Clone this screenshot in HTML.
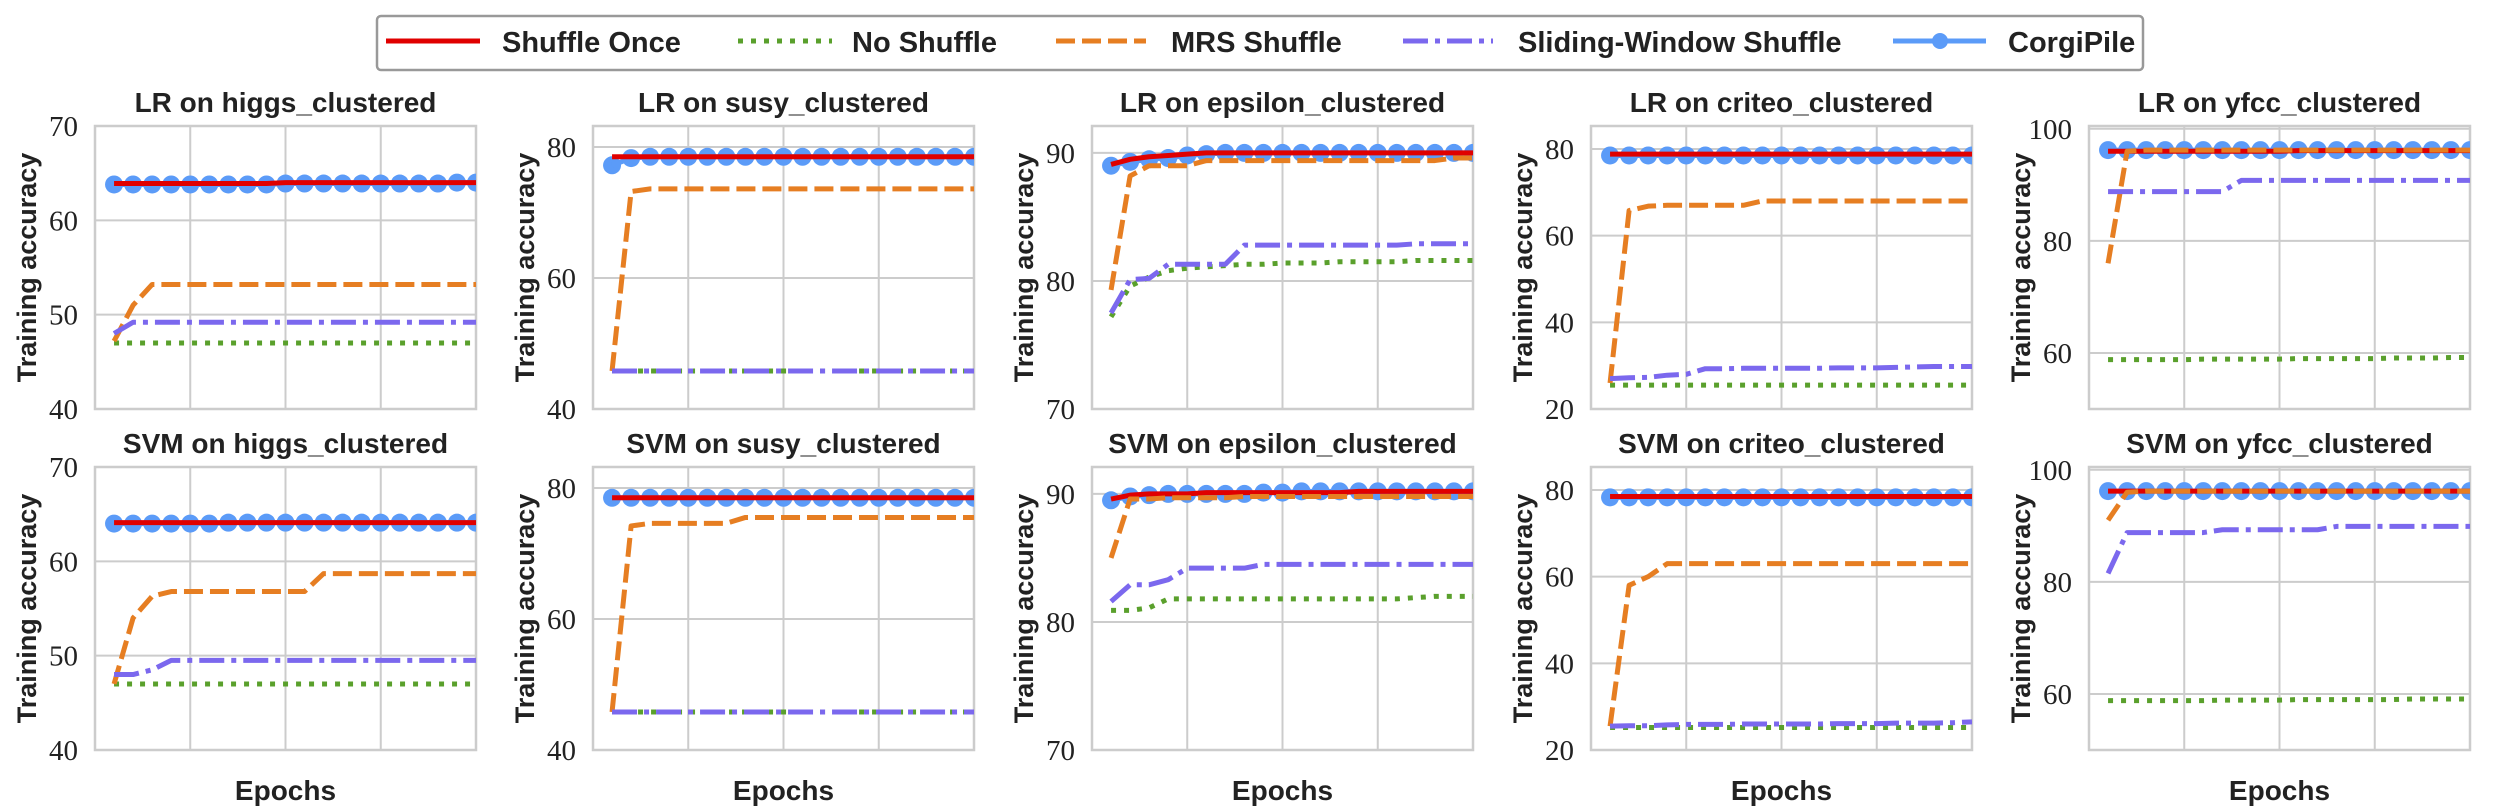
<!DOCTYPE html>
<html><head><meta charset="utf-8"><style>
html,body{margin:0;padding:0;background:#fff;}
svg{display:block;}
</style></head><body>
<svg id="chart" width="2520" height="810" xmlns="http://www.w3.org/2000/svg">
<g>
<rect x="377" y="16" width="1766" height="54" rx="4" fill="#fff" stroke="#999" stroke-width="2.5"/>
<g><line x1="386" y1="41" x2="480" y2="41" stroke="#e00000" stroke-width="5"/><text x="502" y="52" font-family="Liberation Sans, sans-serif" font-weight="bold" font-size="29" fill="#222">Shuffle Once</text></g>
<g><line x1="738" y1="41" x2="832" y2="41" stroke="#5aa02c" stroke-width="5" stroke-dasharray="5,8"/><text x="852" y="52" font-family="Liberation Sans, sans-serif" font-weight="bold" font-size="29" fill="#222">No Shuffle</text></g>
<g><line x1="1056" y1="41" x2="1146" y2="41" stroke="#e67e22" stroke-width="5" stroke-dasharray="19,7"/><text x="1171" y="52" font-family="Liberation Sans, sans-serif" font-weight="bold" font-size="29" fill="#222">MRS Shuffle</text></g>
<g><line x1="1403" y1="41" x2="1493" y2="41" stroke="#7b68ee" stroke-width="5" stroke-dasharray="25,7,5,7"/><text x="1518" y="52" font-family="Liberation Sans, sans-serif" font-weight="bold" font-size="29" fill="#222">Sliding-Window Shuffle</text></g>
<g><line x1="1893" y1="41" x2="1986" y2="41" stroke="#5b9bf8" stroke-width="5"/><circle cx="1940" cy="41" r="8" fill="#5b9bf8"/><text x="2008" y="52" font-family="Liberation Sans, sans-serif" font-weight="bold" font-size="29" fill="#222">CorgiPile</text></g>
</g>
</svg>
<script>
const epochs=[1,2,3,4,5,6,7,8,9,10,11,12,13,14,15,16,17,18,19,20];
const titles=["LR on higgs_clustered","LR on susy_clustered","LR on epsilon_clustered","LR on criteo_clustered","LR on yfcc_clustered","SVM on higgs_clustered","SVM on susy_clustered","SVM on epsilon_clustered","SVM on criteo_clustered","SVM on yfcc_clustered"];
const yMin=[40,40,70,20,50,40,40,70,20,50];
const yMax=[70,83.2,92.1,85.3,100.5,70,83.2,92.1,85.3,100.5];
const yTicks=[[40,50,60,70],[40,60,80],[70,80,90],[20,40,60,80],[60,80,100],[40,50,60,70],[40,60,80],[70,80,90],[20,40,60,80],[60,80,100]];
const shuffleOnce=[
[63.9,63.9,63.9,63.9,63.9,63.9,63.9,63.9,63.9,64,64,64,64,64,64,64,64,64,64,64],
[78.5,78.5,78.5,78.5,78.5,78.5,78.5,78.5,78.5,78.5,78.5,78.5,78.5,78.5,78.5,78.5,78.5,78.5,78.5,78.5],
[89.1,89.5,89.7,89.8,89.9,90,90,90,90,90,90,90,90,90,90,90,90,90,90,90],
[78.8,78.8,78.8,78.8,78.8,78.8,78.8,78.8,78.8,78.8,78.8,78.8,78.8,78.8,78.8,78.8,78.8,78.8,78.8,78.8],
[96,96,96,96,96,96,96,96,96,96,96.1,96.1,96.1,96.1,96.1,96.1,96.1,96.1,96.1,96.1],
[64.1,64.1,64.1,64.1,64.1,64.1,64.1,64.1,64.1,64.1,64.1,64.1,64.1,64.1,64.1,64.1,64.1,64.1,64.1,64.1],
[78.5,78.5,78.5,78.5,78.5,78.5,78.5,78.5,78.5,78.5,78.5,78.5,78.5,78.5,78.5,78.5,78.5,78.5,78.5,78.5],
[89.6,89.9,90,90,90,90.1,90.1,90.1,90.1,90.1,90.1,90.1,90.1,90.2,90.2,90.2,90.2,90.2,90.2,90.2],
[78.5,78.5,78.5,78.5,78.5,78.5,78.5,78.5,78.5,78.5,78.5,78.5,78.5,78.5,78.5,78.5,78.5,78.5,78.5,78.5],
[96.2,96.2,96.2,96.2,96.2,96.2,96.2,96.2,96.2,96.2,96.2,96.2,96.2,96.2,96.2,96.2,96.2,96.2,96.2,96.2]];
const noShuffle=[
[47,47,47,47,47,47,47,47,47,47,47,47,47,47,47,47,47,47,47,47],
[45.8,45.8,45.8,45.8,45.8,45.8,45.8,45.8,45.8,45.8,45.8,45.8,45.8,45.8,45.8,45.8,45.8,45.8,45.8,45.8],
[77.2,79.6,80.3,80.8,81,81.1,81.2,81.3,81.3,81.4,81.4,81.4,81.5,81.5,81.5,81.5,81.6,81.6,81.6,81.6],
[25.5,25.5,25.5,25.5,25.5,25.5,25.5,25.5,25.5,25.5,25.5,25.5,25.5,25.5,25.5,25.5,25.5,25.5,25.5,25.5],
[58.8,58.8,58.8,58.8,58.8,58.9,58.9,58.9,58.9,58.9,59,59,59,59,59,59.1,59.1,59.1,59.2,59.2],
[47,47,47,47,47,47,47,47,47,47,47,47,47,47,47,47,47,47,47,47],
[45.8,45.8,45.8,45.8,45.8,45.8,45.8,45.8,45.8,45.8,45.8,45.8,45.8,45.8,45.8,45.8,45.8,45.8,45.8,45.8],
[80.9,80.9,81.1,81.8,81.8,81.8,81.8,81.8,81.8,81.8,81.8,81.8,81.8,81.8,81.8,81.8,81.9,82,82,82],
[25.2,25.2,25.2,25.2,25.2,25.2,25.2,25.2,25.2,25.2,25.2,25.2,25.2,25.2,25.2,25.2,25.2,25.2,25.2,25.2],
[58.8,58.8,58.8,58.8,58.8,58.8,58.9,58.9,58.9,58.9,59,59,59,59,59,59,59.1,59.1,59.1,59.1]];
const mrsShuffle=[
[47.2,51,53.2,53.2,53.2,53.2,53.2,53.2,53.2,53.2,53.2,53.2,53.2,53.2,53.2,53.2,53.2,53.2,53.2,53.2],
[45.8,73.2,73.6,73.6,73.6,73.6,73.6,73.6,73.6,73.6,73.6,73.6,73.6,73.6,73.6,73.6,73.6,73.6,73.6,73.6],
[79.3,88.2,89,89,89,89.4,89.4,89.4,89.4,89.4,89.4,89.4,89.4,89.4,89.4,89.4,89.4,89.4,89.6,89.6],
[26,65.8,66.8,67,67,67,67,67,68,68,68,68,68,68,68,68,68,68,68,68],
[76,96,96.2,96.2,96.2,96.2,96.2,96.2,96.2,96.2,96.2,96.2,96.2,96.2,96.2,96.2,96.2,96.2,96.2,96.2],
[47,54,56.3,56.8,56.8,56.8,56.8,56.8,56.8,56.8,56.8,58.7,58.7,58.7,58.7,58.7,58.7,58.7,58.7,58.7],
[45.8,74.2,74.6,74.6,74.6,74.6,74.6,75.5,75.5,75.5,75.5,75.5,75.5,75.5,75.5,75.5,75.5,75.5,75.5,75.5],
[85,89.6,89.6,89.7,89.7,89.7,89.7,89.8,89.8,89.8,89.8,89.8,89.8,89.8,89.8,89.8,89.8,89.8,89.8,89.8],
[25.5,58,60,63,63,63,63,63,63,63,63,63,63,63,63,63,63,63,63,63],
[91,96,96.2,96.2,96.2,96.2,96.2,96.2,96.2,96.2,96.2,96.2,96.2,96.2,96.2,96.2,96.2,96.2,96.2,96.2]];
const slidingWindow=[
[48,49.2,49.2,49.2,49.2,49.2,49.2,49.2,49.2,49.2,49.2,49.2,49.2,49.2,49.2,49.2,49.2,49.2,49.2,49.2],
[45.8,45.8,45.8,45.8,45.8,45.8,45.8,45.8,45.8,45.8,45.8,45.8,45.8,45.8,45.8,45.8,45.8,45.8,45.8,45.8],
[77.5,80.1,80.2,81.3,81.3,81.3,81.3,82.8,82.8,82.8,82.8,82.8,82.8,82.8,82.8,82.8,82.9,82.9,82.9,82.9],
[27,27.2,27.3,27.8,28,29.3,29.3,29.4,29.4,29.4,29.4,29.4,29.5,29.5,29.5,29.6,29.7,29.8,29.8,29.8],
[88.8,88.8,88.8,88.8,88.8,88.8,88.8,90.8,90.8,90.8,90.8,90.8,90.8,90.8,90.8,90.8,90.8,90.8,90.8,90.8],
[48,48,48.5,49.5,49.5,49.5,49.5,49.5,49.5,49.5,49.5,49.5,49.5,49.5,49.5,49.5,49.5,49.5,49.5,49.5],
[45.8,45.8,45.8,45.8,45.8,45.8,45.8,45.8,45.8,45.8,45.8,45.8,45.8,45.8,45.8,45.8,45.8,45.8,45.8,45.8],
[81.6,82.9,82.9,83.3,84.2,84.2,84.2,84.2,84.5,84.5,84.5,84.5,84.5,84.5,84.5,84.5,84.5,84.5,84.5,84.5],
[25.5,25.6,25.6,25.8,25.9,25.9,25.9,26,26,26,26,26,26.1,26.1,26.1,26.2,26.2,26.2,26.3,26.5],
[81.5,88.8,88.8,88.8,88.8,88.8,89.3,89.3,89.3,89.3,89.3,89.3,89.9,89.9,89.9,89.9,89.9,89.9,89.9,89.9]];
const corgiPile=[
[63.8,63.8,63.8,63.8,63.8,63.8,63.8,63.8,63.8,63.9,63.9,63.9,63.9,63.9,63.9,63.9,63.9,63.9,64,64],
[77.2,78.3,78.5,78.5,78.5,78.5,78.5,78.5,78.5,78.5,78.5,78.5,78.5,78.5,78.5,78.5,78.5,78.5,78.5,78.5],
[89,89.3,89.5,89.6,89.8,89.9,90,90,90,90,90,90,90,90,90,90,90,90,90,90],
[78.5,78.5,78.5,78.5,78.5,78.5,78.5,78.5,78.5,78.5,78.5,78.5,78.5,78.5,78.5,78.5,78.5,78.5,78.5,78.5],
[96.2,96.2,96.2,96.2,96.2,96.2,96.2,96.2,96.2,96.2,96.2,96.2,96.2,96.2,96.2,96.2,96.2,96.2,96.2,96.2],
[64,64,64,64,64,64,64.1,64.1,64.1,64.1,64.1,64.1,64.1,64.1,64.1,64.1,64.1,64.1,64.1,64.1],
[78.5,78.5,78.5,78.5,78.5,78.5,78.5,78.5,78.5,78.5,78.5,78.5,78.5,78.5,78.5,78.5,78.5,78.5,78.5,78.5],
[89.5,89.8,89.9,90,90,90,90,90,90.1,90.1,90.2,90.2,90.2,90.2,90.2,90.2,90.2,90.2,90.2,90.2],
[78.3,78.3,78.3,78.3,78.3,78.3,78.3,78.3,78.3,78.3,78.3,78.3,78.3,78.3,78.3,78.3,78.3,78.3,78.3,78.3],
[96.2,96.2,96.2,96.2,96.2,96.2,96.2,96.2,96.2,96.2,96.2,96.2,96.2,96.2,96.2,96.2,96.2,96.2,96.2,96.2]];

const NS="http://www.w3.org/2000/svg";
const svg=document.getElementById('chart');
const lefts=[95,593,1092,1591,2089], W=381, tops=[126,467], H=283;
function mk(tag,attrs,parent){const e=document.createElementNS(NS,tag);for(const k in attrs)e.setAttribute(k,attrs[k]);parent.appendChild(e);return e;}
const series=[
 {name:'corgipile',data:corgiPile,color:'#5b9bf8',dash:null,marker:true},
 {name:'shuffle-once',data:shuffleOnce,color:'#e00000',dash:null},
 {name:'no-shuffle',data:noShuffle,color:'#5aa02c',dash:'5,8'},
 {name:'mrs-shuffle',data:mrsShuffle,color:'#e67e22',dash:'19,7'},
 {name:'sliding-window',data:slidingWindow,color:'#7b68ee',dash:'25,7,5,7'}];
for(let p=0;p<10;p++){
 const L=lefts[p%5], T=tops[Math.floor(p/5)];
 const g=mk('g',{},svg);
 
 
 const xs=e=>L+(e/20)*W;
 const ys=v=>T+H-(v-yMin[p])/(yMax[p]-yMin[p])*H;
 const defs=mk('defs',{},g);
 const cp=mk('clipPath',{id:'c'+p},defs);
 mk('rect',{x:L,y:T,width:W,height:H},cp);
 for(const e of [5,10,15]){const gl=mk('line',{x1:xs(e),x2:xs(e),y1:T,y2:T+H,stroke:'#cccccc','stroke-width':2},g);
  }
 for(const t of yTicks[p]){const y=ys(t);
  if(t>yMin[p]&&t<yMax[p]){const gl=mk('line',{x1:L,x2:L+W,y1:y,y2:y,stroke:'#cccccc','stroke-width':2},g);
   }
  const tx=mk('text',{x:L-17,y:y+10,'text-anchor':'end','font-family':'Liberation Serif, serif','font-size':29,fill:'#222'},g);
  tx.textContent=t;
  }
 const fr=mk('rect',{x:L,y:T,width:W,height:H,fill:'none',stroke:'#cccccc','stroke-width':2.5},g);
 
 const plot=mk('g',{'clip-path':'url(#c'+p+')'},g);
 for(const s of series){
  const pts=s.data[p].map((v,i)=>xs(epochs[i])+','+ys(v)).join(' ');
  if(s.marker){for(let i=0;i<epochs.length;i++){const c=mk('circle',{cx:xs(epochs[i]),cy:ys(s.data[p][i]),r:9,fill:s.color},plot);
   }}
  const a={points:pts,fill:'none',stroke:s.color,'stroke-width':5,'stroke-linejoin':'round'};
  if(s.dash)a['stroke-dasharray']=s.dash;
  const pl=mk('polyline',a,plot);
  
 }
 const ti=mk('text',{x:L+W/2,y:T-14,'text-anchor':'middle','font-family':'Liberation Sans, sans-serif','font-weight':'bold','font-size':28,fill:'#222'},g);
 ti.textContent=titles[p];
 
 const yl=mk('text',{x:0,y:0,transform:'translate('+(L-59)+','+(T+H/2)+') rotate(-90)','text-anchor':'middle','font-family':'Liberation Sans, sans-serif','font-weight':'bold','font-size':27,fill:'#222'},g);
 yl.textContent='Training accuracy';
 
 if(p>=5){const xl=mk('text',{x:L+W/2,y:800,'text-anchor':'middle','font-family':'Liberation Sans, sans-serif','font-weight':'bold','font-size':28,fill:'#222'},g);
  xl.textContent='Epochs';
  }
}
</script>
</body></html>
